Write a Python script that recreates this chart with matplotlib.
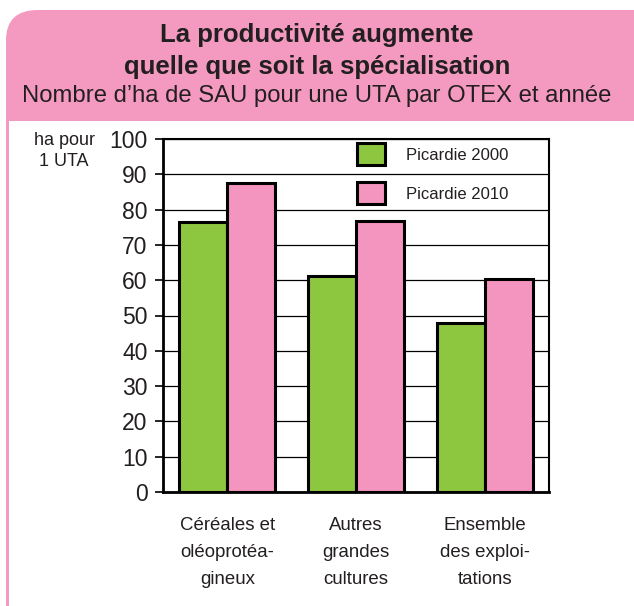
"""
Productivité en Picardie : ha de SAU par UTA, 2000 vs 2010
"""

import numpy as np
import matplotlib
matplotlib.use('Agg')
from matplotlib import pyplot as plt
from matplotlib.patches import FancyBboxPatch, Rectangle

categories = ['Céréales et\noléoprotéa-\ngineux',
              'Autres\ngrandes\ncultures',
              'Ensemble\ndes exploi-\ntations']
series_names = ['Picardie 2000', 'Picardie 2010']
values_2000 = [76.4, 61.1, 47.8]
values_2010 = [87.4, 76.7, 60.3]
y_ticks = [0, 10, 20, 30, 40, 50, 60, 70, 80, 90, 100]

title = 'La productivité augmente\nquelle que soit la spécialisation'
subtitle = 'Nombre d\u2019ha de SAU pour une UTA par OTEX et année'
y_unit = 'ha pour\n1 UTA'

W, H = 634, 606
PINK = '#f49ac1'
BAR_PINK = '#f495bf'
GREEN = '#8dc63f'
TXT = '#231f20'

plt.rcParams['font.family'] = ['Liberation Sans', 'DejaVu Sans']


def fx(x):
    return x / W


def fy(y):
    return 1 - y / H


def main():
    fig = plt.figure(figsize=(W / 100, H / 100), dpi=100)

    # pink header with rounded corner, thin pink border down the left side
    head = FancyBboxPatch((fx(6), fy(700)), fx(700), fy(10) - fy(700),
                          boxstyle='round,pad=0,rounding_size=0.05',
                          transform=fig.transFigure, facecolor=PINK,
                          edgecolor='none', zorder=-2)
    fig.patches.append(head)
    fig.patches.append(Rectangle((fx(9), 0), 1, fy(121), transform=fig.transFigure,
                                 facecolor='white', edgecolor='none', zorder=-1))

    fig.text(0.5, fy(51), title, ha='center', va='center', fontsize=18.5,
             fontweight='bold', color=TXT, linespacing=1.38)
    fig.text(0.5, fy(96), subtitle, ha='center', va='center', fontsize=17.2,
             color=TXT)
    fig.text(fx(64), fy(151), y_unit, ha='center', va='center', fontsize=13,
             color=TXT, linespacing=1.35)

    ax = fig.add_axes([fx(163), fy(492), fx(549 - 163), fy(139) - fy(492)])
    ax.patch.set_alpha(0)
    x = np.arange(len(categories))
    w = 0.373
    ax.bar(x - w / 2, values_2000, w, color=GREEN, edgecolor='black',
           linewidth=2.2, label=series_names[0], zorder=3)
    ax.bar(x + w / 2, values_2010, w, color=BAR_PINK, edgecolor='black',
           linewidth=2.2, label=series_names[1], zorder=3)

    ax.set_xlim(-0.5, len(categories) - 0.5)
    ax.set_ylim(0, 100)
    ax.set_yticks(y_ticks)
    ax.yaxis.grid(True, color='black', linewidth=0.9)
    ax.set_axisbelow(True)
    ax.tick_params(axis='y', direction='out', length=6, width=1.2, pad=5,
                   labelsize=16.5, labelcolor=TXT)
    ax.set_xticks(x)
    ax.set_xticklabels(categories, fontsize=13.4, color=TXT, linespacing=1.75)
    ax.tick_params(axis='x', length=0, pad=18)
    for side in ['left', 'bottom']:
        ax.spines[side].set_linewidth(2.0)
    for side in ['right', 'top']:
        ax.spines[side].set_linewidth(1.5)

    ax.legend(loc='upper left', bbox_to_anchor=(fx(357), fy(143)),
              bbox_transform=fig.transFigure, frameon=False, fontsize=12,
              borderpad=0, borderaxespad=0, handlelength=1.68,
              handleheight=1.67, labelspacing=1.02, handletextpad=1.25,
              labelcolor=TXT)

    fig.savefig('out.png', dpi=100)


if __name__ == '__main__':
    main()
